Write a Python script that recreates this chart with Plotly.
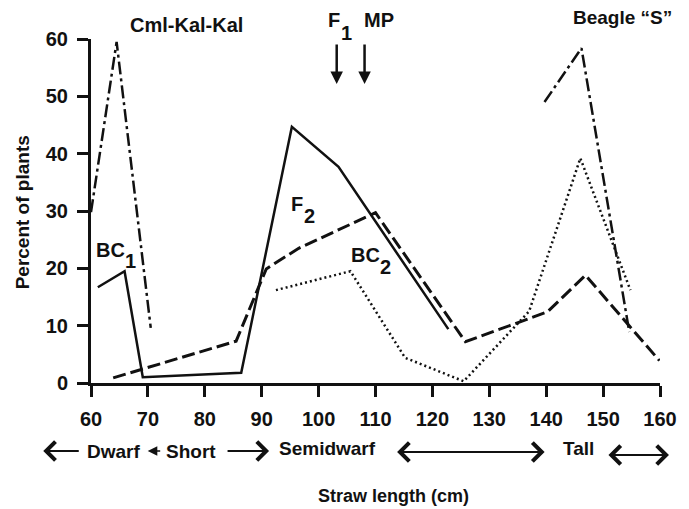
import plotly.graph_objects as go

# ---------------- data ----------------
x_ticks = [60, 70, 80, 90, 100, 110, 120, 130, 140, 150, 160]
y_ticks = [0, 10, 20, 30, 40, 50, 60]

cml_x = [60.0, 64.5, 70.5]
cml_y = [29.8, 59.5, 9.6]

bc1_x = [61.2, 65.9, 69.1, 86.4, 95.3, 103.5, 122.8]
bc1_y = [16.7, 19.5, 1.0, 1.8, 44.7, 37.7, 9.4]

f2_x = [63.9, 85.5, 90.8, 96.5, 110.0, 125.8, 140.2, 146.9, 159.9]
f2_y = [0.9, 7.3, 19.9, 23.5, 29.7, 7.2, 12.4, 18.8, 3.9]

bc2_x = [92.5, 105.6, 115.2, 125.5, 137.0, 146.0, 154.8]
bc2_y = [16.2, 19.5, 4.4, 0.3, 12.5, 39.2, 16.2]

beagle_x = [139.7, 146.2, 154.6]
beagle_y = [49.0, 58.4, 8.9]

# ---------------- figure ----------------
FONT = "Liberation Sans"
BLACK = "#111111"

W, H = 689, 509
L, R, T, B = 91, 26, 39, 126
PW, PH = W - L - R, H - T - B


def px(x):
    return (x - L) / PW


def py(y):
    return (H - B - y) / PH


fig = go.Figure()


def add_line(x, y, dash, width, name):
    fig.add_trace(go.Scatter(x=x, y=y, mode="lines", name=name,
                             line=dict(color=BLACK, width=width, dash=dash),
                             showlegend=False, hoverinfo="skip"))


add_line(cml_x, cml_y, "13px,4px,3px,4px", 2.5, "Cml-Kal-Kal")
add_line(bc1_x, bc1_y, "solid", 2.5, "BC1")
add_line(f2_x, f2_y, "13px,5px", 3, "F2")
add_line(bc2_x, bc2_y, "2px,3px", 2.5, "BC2")
add_line(beagle_x, beagle_y, "13px,4px,3px,4px", 2.5, 'Beagle "S"')

ann = []


def label(text, x, y, size=20, angle=0):
    ann.append(dict(text=text, x=px(x), y=py(y), xref="paper", yref="paper",
                    showarrow=False, xanchor="center", yanchor="middle",
                    textangle=angle, borderpad=0,
                    font=dict(family=FONT, size=size, color=BLACK, weight="bold")))


label("Cml-Kal-Kal", 187, 25, 20)
label("F", 335, 20)
label("1", 348, 33)
label("MP", 381, 20)
label("Beagle “S”", 625, 18, 19)
label("F", 298, 204)
label("2", 311, 216)
label("BC", 111, 250)
label("1", 131, 261)
label("BC", 367, 255)
label("2", 387, 267)

# bottom category row
label("Dwarf", 114, 452, 19)
label("Short", 192, 452, 19)
label("Semidwarf", 329, 449, 19)
label("Tall", 581, 448, 19)
label("Straw length (cm)", 395, 496, 18)

# y axis title
label("Percent of plants", 22, 212, 19, angle=-90)


def arrow(x0, y0, x1, y1, head=2, width=2.5, size=1.0, both=False):
    d = dict(text="", x=px(x1), y=py(y1), ax=x0 - x1, ay=y0 - y1,
             xref="paper", yref="paper", axref="pixel", ayref="pixel",
             showarrow=True, arrowhead=head,
             arrowwidth=width, arrowsize=size, arrowcolor=BLACK,
             standoff=0, startstandoff=0)
    if both:
        d.update(arrowside="end+start", startarrowhead=head, startarrowsize=size)
    ann.append(d)


# F1 and MP arrows
arrow(338, 43, 338, 84, head=2, width=2.5, size=1.0)
arrow(366, 43, 366, 84, head=2, width=2.5, size=1.0)

# category arrows
arrow(80, 451, 43, 451, head=4, width=1.8, size=2.0)
arrow(162, 451, 148, 451, head=2, width=1.6, size=1.2)
arrow(227, 451, 270, 451, head=4, width=1.8, size=2.0)
arrow(398, 452, 547, 452, head=4, width=1.8, size=2.0, both=True)
arrow(610, 455, 672, 455, head=4, width=1.8, size=2.0, both=True)

axis_common = dict(showline=True, linecolor=BLACK, linewidth=3, ticks="outside",
                   ticklen=11, tickwidth=2.5, tickcolor=BLACK, showgrid=False,
                   zeroline=False,
                   tickfont=dict(family=FONT, size=20, color=BLACK, weight="bold"))

fig.update_layout(
    width=W, height=H,
    margin=dict(l=L, r=R, t=T, b=B),
    paper_bgcolor="white", plot_bgcolor="white",
    xaxis=dict(range=[60, 160], tickvals=x_ticks, ticklabelstandoff=5, **axis_common),
    yaxis=dict(range=[0, 60], tickvals=y_ticks, ticklabelstandoff=5, **axis_common),
    annotations=ann,
    showlegend=False,
)

fig.write_html(
    "out.html",
    config={"displayModeBar": False},
    post_script="document.body.style.margin='0';document.body.style.overflow='hidden';",
)
